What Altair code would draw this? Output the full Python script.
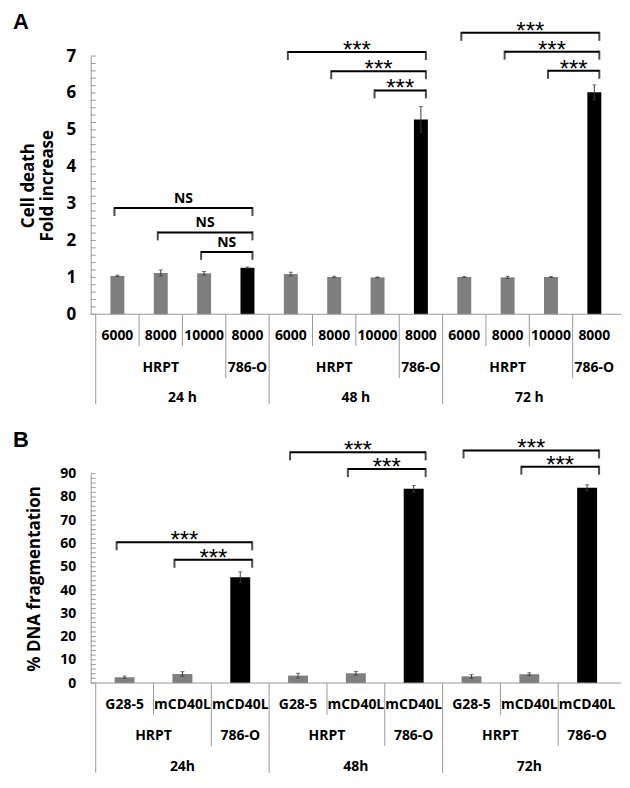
import altair as alt
import pandas as pd

# ---------------- data: panel A (cell death, fold increase) ----------------
a_time = ["24 h"] * 4 + ["48 h"] * 4 + ["72 h"] * 4
a_cell = ["HRPT", "HRPT", "HRPT", "786-O"] * 3
a_sub = ["6000", "8000", "10000", "8000"] * 3
a_value = [1.04, 1.12, 1.11, 1.26, 1.09, 1.01, 1.00, 5.28, 1.01, 1.00, 1.01, 6.02]
a_err = [0.02, 0.08, 0.05, 0.02, 0.05, 0.02, 0.01, 0.35, 0.01, 0.03, 0.01, 0.20]
a_br_left = [0, 1, 2, 4, 5, 6, 8, 9, 10]
a_br_right = [3, 3, 3, 7, 7, 7, 11, 11, 11]
a_br_height = [2.88, 2.22, 1.69, 7.11, 6.59, 6.07, 7.63, 7.12, 6.60]
a_br_label = ["NS", "NS", "NS", "***", "***", "***", "***", "***", "***"]
a_ticks = [0, 1, 2, 3, 4, 5, 6, 7]

# ---------------- data: panel B (% DNA fragmentation) ----------------
b_time = ["24h"] * 3 + ["48h"] * 3 + ["72h"] * 3
b_cell = ["HRPT", "HRPT", "786-O"] * 3
b_sub = ["G28-5", "mCD40L", "mCD40L"] * 3
b_value = [2.5, 3.9, 45.5, 3.2, 4.2, 83.5, 2.9, 3.8, 84.0]
b_err = [0.5, 1.0, 2.3, 1.0, 0.8, 1.4, 0.8, 0.6, 1.2]
b_br_left = [0, 1, 3, 4, 6, 7]
b_br_right = [2, 2, 5, 5, 8, 8]
b_br_height = [60.5, 53.0, 99.2, 92.0, 100.0, 93.0]
b_br_label = ["***"] * 6
b_ticks = [0, 10, 20, 30, 40, 50, 60, 70, 80, 90]

FONT = "Open Sans"
LINE = "#9a9a9a"
GRAY_BAR = "#7f7f7f"


def build_panel(letter, times, cells, subs, values, errs, br_left, br_right,
                br_height, br_label, ymax, major, minor_step, H, W, bar_size,
                ytitle, ylab_size, lab_pad, title_pad, br_lo, br_ro, tick_len,
                rows, letter_x):
    N = len(values)
    df = pd.DataFrame({"time": times, "cell": cells, "sub": subs,
                       "value": values, "err": errs})
    df["pos"] = df.index + 0.5
    df["lo"] = df["value"] - df["err"]
    df["hi"] = df["value"] + df["err"]

    xs = alt.Scale(domain=[0, N], nice=False, zero=False)
    ys = alt.Scale(domain=[0, ymax], nice=False, zero=True)
    yaxis = alt.Axis(values=major, grid=False, ticks=False, domainColor=LINE,
                     labelFont=FONT, labelFontSize=ylab_size,
                     labelFontWeight="bold", labelColor="black",
                     labelPadding=lab_pad, titleFont=FONT, titleFontSize=17,
                     titleFontWeight="bold", titleColor="black",
                     titlePadding=title_pad, titleLineHeight=19)

    def X(f):
        return alt.X(f, scale=xs, axis=None)

    def Y(f):
        return alt.Y(f, type="quantitative", scale=ys, axis=yaxis, title=ytitle)

    minor_vals = [round(i * minor_step, 6) for i in range(int(round(ymax / minor_step)) + 1)]
    minor = alt.Chart(pd.DataFrame({"v": minor_vals})).mark_rule(
        color=LINE, strokeWidth=1).encode(x=alt.value(0), x2=alt.value(5), y=Y("v"))

    bars = alt.Chart(df).mark_bar(size=bar_size).encode(
        x=X("pos:Q"), y=Y("value"),
        color=alt.Color("cell:N", scale=alt.Scale(domain=["HRPT", "786-O"],
                                                  range=[GRAY_BAR, "#000000"]),
                        legend=None))
    err_rule = alt.Chart(df).mark_rule(color="#3a3a3a", strokeWidth=1).encode(
        x=X("pos:Q"), y=Y("lo"), y2="hi:Q")
    caps = alt.Chart(df).transform_fold(["lo", "hi"], as_=["k", "v"]).mark_tick(
        orient="horizontal", size=4, thickness=1, color="#3a3a3a").encode(
        x=X("pos:Q"), y=Y("v"))

    br = pd.DataFrame({"l": br_left, "r": br_right, "h": br_height, "label": br_label})
    br["xl"] = br["l"] + 0.5
    br["xr"] = br["r"] + 0.5
    br["xm"] = (br["xl"] + br["xr"]) / 2
    hline = alt.Chart(br).mark_rule(color="black", strokeWidth=2, xOffset=br_lo,
                                    x2Offset=br_ro).encode(
        x=X("xl:Q"), x2="xr:Q", y=Y("h"))
    lt = alt.Chart(br).mark_tick(orient="vertical", size=tick_len, thickness=2,
                                 color="black", xOffset=br_lo,
                                 yOffset=tick_len / 2 - 1).encode(x=X("xl:Q"), y=Y("h"))
    rt = alt.Chart(br).mark_tick(orient="vertical", size=tick_len, thickness=2,
                                 color="black", xOffset=br_ro,
                                 yOffset=tick_len / 2 - 1).encode(x=X("xr:Q"), y=Y("h"))
    ns_lab = alt.Chart(br).transform_filter(alt.datum.label == "NS").mark_text(
        font=FONT, fontSize=14, fontWeight="bold", baseline="alphabetic", dy=-5,
        xOffset=(br_lo + br_ro) / 2).encode(x=X("xm:Q"), y=Y("h"), text="label:N")
    st_lab = alt.Chart(br).transform_filter(alt.datum.label == "***").mark_text(
        font="Liberation Sans", fontSize=24, baseline="alphabetic", dy=6,
        xOffset=(br_lo + br_ro) / 2).encode(x=X("xm:Q"), y=Y("h"), text="label:N")

    # --- multi-level category table under the axis ---
    r1, r1e, r2, r2e, r3, r3e = rows
    row1 = alt.Chart(df).mark_text(font=FONT, fontSize=14, fontWeight="bold",
                                   baseline="middle").encode(
        x=X("pos:Q"), y=alt.value(H + r1), text="sub:N")
    grp2 = ((df["cell"] != df["cell"].shift()) | (df["time"] != df["time"].shift())).cumsum()
    g2 = df.groupby(grp2).agg(cell=("cell", "first"), a=("pos", "min"),
                              b=("pos", "max")).reset_index(drop=True)
    g2["mid"] = (g2["a"] + g2["b"]) / 2
    row2 = alt.Chart(g2).mark_text(font=FONT, fontSize=14, fontWeight="bold",
                                   baseline="middle").encode(
        x=X("mid:Q"), y=alt.value(H + r2), text="cell:N")
    g3 = df.groupby("time", sort=False).agg(a=("pos", "min"),
                                            b=("pos", "max")).reset_index()
    g3["mid"] = (g3["a"] + g3["b"]) / 2
    row3 = alt.Chart(g3).mark_text(font=FONT, fontSize=14, fontWeight="bold",
                                   baseline="middle").encode(
        x=X("mid:Q"), y=alt.value(H + r3), text="time:N")

    bnd = []
    for k in range(N):
        if k == 0 or times[k] != times[k - 1]:
            lvl = 3
        elif cells[k] != cells[k - 1]:
            lvl = 2
        else:
            lvl = 1
        bnd.append({"b": k, "lvl": lvl})
    sep = pd.DataFrame(bnd)
    seps = []
    for lvl, end in [(1, r1e), (2, r2e), (3, r3e)]:
        seps.append(alt.Chart(sep).transform_filter(alt.datum.lvl == lvl).mark_rule(
            color=LINE, strokeWidth=1).encode(
            x=X("b:Q"), y=alt.value(H), y2=alt.value(H + end)))
    base_line = alt.Chart(pd.DataFrame({"d": [0]})).mark_rule(
        color=LINE, strokeWidth=1).encode(x=alt.value(0), x2=alt.value(W),
                                          y=alt.value(H))
    letter_mark = alt.Chart(pd.DataFrame({"t": [letter]})).mark_text(
        font="Liberation Sans", fontSize=22, fontWeight="bold", align="left",
        baseline="top").encode(x=alt.value(letter_x), y=alt.value(-44), text="t:N")

    return alt.layer(minor, bars, err_rule, caps, hline, lt, rt, ns_lab, st_lab,
                     row1, row2, row3, *seps, base_line, letter_mark).properties(
        width=W, height=H)


W = 532
panel_a = build_panel("A", a_time, a_cell, a_sub, a_value, a_err, a_br_left,
                      a_br_right, a_br_height, a_br_label, 7, a_ticks, 0.2,
                      259, W, 14, ["Cell death", "Fold increase"], 17, 15, 10,
                      -3, 5, 9, (22, 32, 54, 64, 84, 90), -78)
panel_b = build_panel("B", b_time, b_cell, b_sub, b_value, b_err, b_br_left,
                      b_br_right, b_br_height, b_br_label, 90, b_ticks, 2,
                      210, W, 20, "% DNA fragmentation", 14, 15, 16,
                      -8, 12, 9, (22, 32, 53, 63, 84, 90), -78)

chart = alt.vconcat(panel_a, panel_b, spacing=24).configure_view(
    stroke=None).properties(padding={"left": 5, "top": 2, "right": 0, "bottom": 0})

chart.save("out.html", embed_options={"renderer": "svg", "actions": False})
